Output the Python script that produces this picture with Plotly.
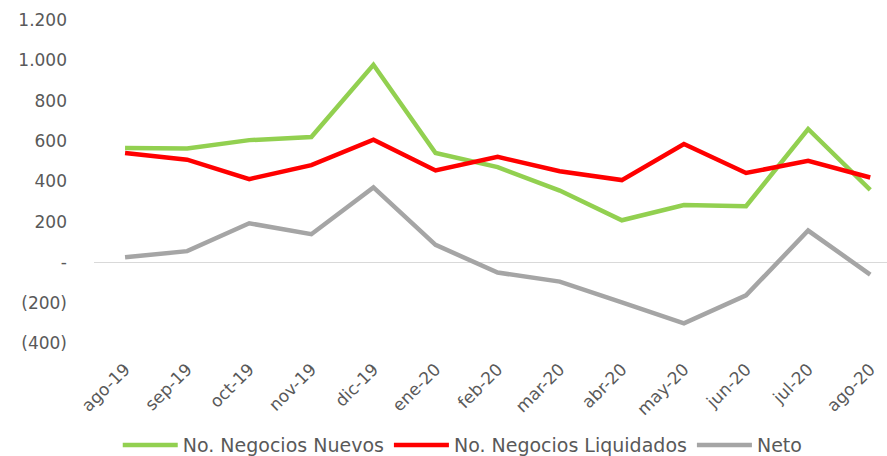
import plotly.graph_objects as go

months = ["ago-19", "sep-19", "oct-19", "nov-19", "dic-19", "ene-20", "feb-20",
          "mar-20", "abr-20", "may-20", "jun-20", "jul-20", "ago-20"]
nuevos = [566, 563, 605, 620, 978, 541, 471, 355, 208, 283, 278, 660, 359]
liquidados = [541, 508, 412, 481, 607, 455, 522, 451, 407, 586, 442, 503, 420]
neto = [25, 55, 193, 139, 371, 86, -51, -96, -199, -303, -164, 157, -61]

y_tickvals = [1200, 1000, 800, 600, 400, 200, 0, -200, -400]
y_ticktext = ["1.200", "1.000", "800", "600", "400", "200", "-", "(200)", "(400)"]

FONT = "DejaVu Sans"
TXT = "#595959"
FS = 17

fig = go.Figure()
fig.add_trace(go.Scatter(x=months, y=nuevos, mode="lines", name="No. Negocios Nuevos",
                         line=dict(color="#92D050", width=4.5)))
fig.add_trace(go.Scatter(x=months, y=liquidados, mode="lines", name="No. Negocios Liquidados",
                         line=dict(color="#FF0000", width=4.5)))
fig.add_trace(go.Scatter(x=months, y=neto, mode="lines", name="Neto",
                         line=dict(color="#A5A5A5", width=4.5)))

fig.update_layout(
    width=887, height=456,
    margin=dict(l=94, r=0, t=20, b=113, autoexpand=False),
    paper_bgcolor="white", plot_bgcolor="white",
    font=dict(family=FONT, size=FS, color=TXT),
    showlegend=True,
    legend=dict(orientation="h", x=0.465, xanchor="center", y=-0.316, yanchor="middle",
                font=dict(family=FONT, size=19, color=TXT), itemwidth=55,
                traceorder="normal"),
)
fig.update_xaxes(type="category", range=[-0.5, 12.27], showgrid=False, zeroline=False,
                 showline=False, tickangle=-45, ticks="", ticklabelstandoff=12,
                 automargin=False,
                 tickfont=dict(family=FONT, size=FS, color=TXT))
fig.update_yaxes(range=[-400, 1200], tickvals=y_tickvals, ticktext=y_ticktext,
                 showgrid=False, zeroline=True, zerolinecolor="#D9D9D9", zerolinewidth=1.3,
                 showline=False, ticks="", ticklabelstandoff=26, automargin=False,
                 tickfont=dict(family=FONT, size=FS, color=TXT))

fig.write_html("out.html", config={"displayModeBar": False},
               post_script="document.body.style.margin='0';")
